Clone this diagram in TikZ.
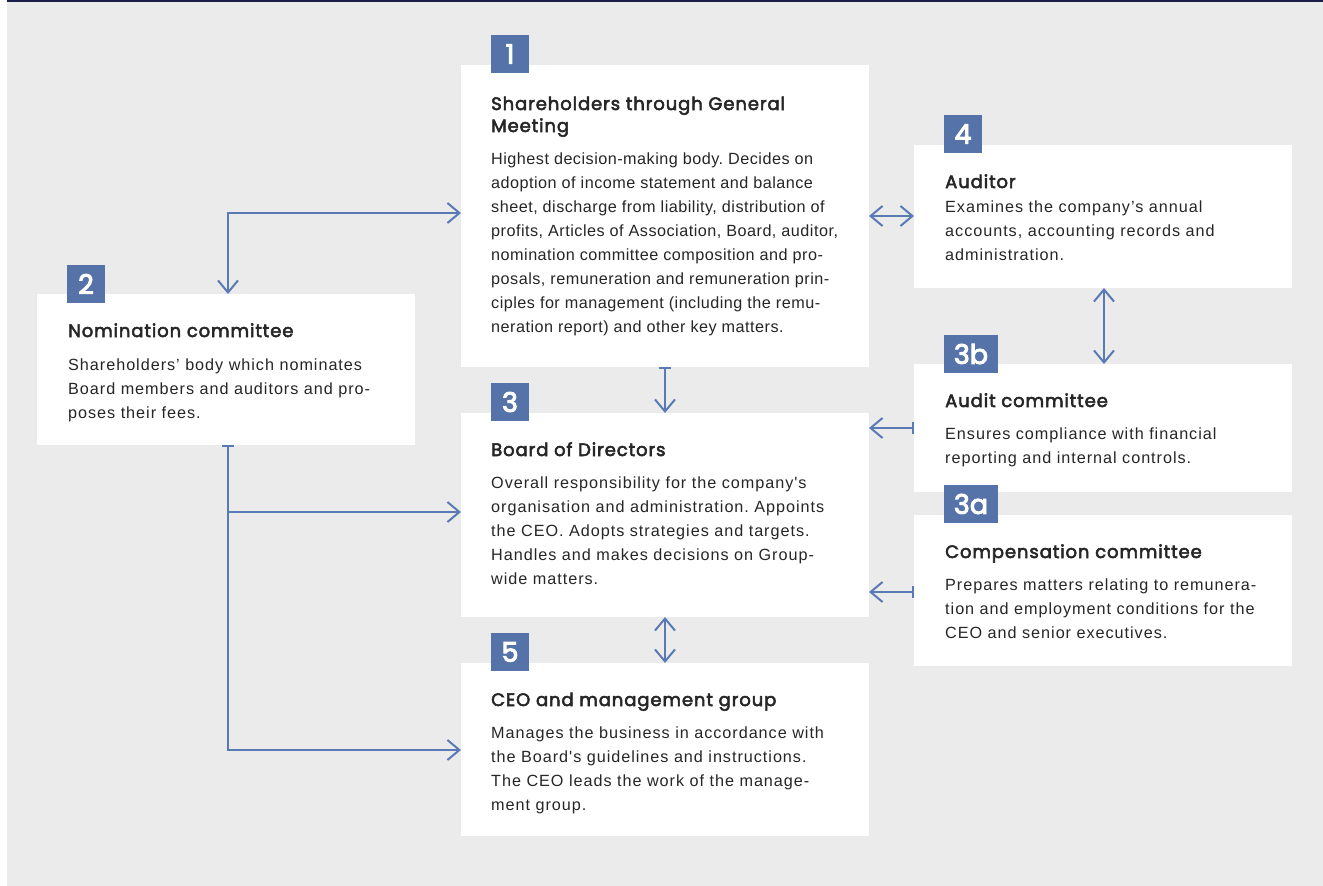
\documentclass[tikz,border=0pt]{standalone}
\usepackage{fontspec}
\usetikzlibrary{arrows.meta}
\setmainfont{Liberation Sans}
\newfontfamily\bodyf{Liberation Sans}[LetterSpace=6.0]
\newfontfamily\bodyn{Liberation Sans}[LetterSpace=3.0]
\newfontfamily\titlef{Poppins}[FakeBold=3.0, LetterSpace=5.0]
\newfontfamily\badgef{Poppins}[FakeBold=3.5]
\definecolor{bgc}{HTML}{EBEBEB}
\definecolor{navy}{HTML}{1C1F4A}
\definecolor{badgec}{HTML}{5573A8}
\definecolor{arrowc}{HTML}{5A7AB5}
\definecolor{textc}{HTML}{262626}
\begin{document}
\begin{tikzpicture}[x=1pt,y=-1pt,
  box/.style={fill=white, draw=none, anchor=north west, inner sep=0pt, outer sep=0pt},
  badge/.style={fill=badgec, text=white, inner sep=0pt, outer sep=0pt, anchor=north west,
    minimum height=38pt, font=\badgef\fontsize{27}{27}\selectfont},
  ttl/.style={anchor=base west, inner sep=0pt, text=textc,
    font=\titlef\fontsize{18}{22}\selectfont\frenchspacing},
  body/.style={anchor=base west, inner sep=0pt, text=textc,
    font=\bodyf\fontsize{16.2}{24}\selectfont\frenchspacing},
  bodyn/.style={anchor=base west, inner sep=0pt, text=textc,
    font=\bodyn\fontsize{16.2}{24}\selectfont\frenchspacing},
  conn/.style={draw=arrowc, line width=2pt},
  tp/.tip={Straight Barb[length=12pt, width=20pt]},
  br/.tip={Bar[width=12pt]}
]
\useasboundingbox (0,0) rectangle (1323,886);
\fill[bgc] (7,2) rectangle (1323,886);
\fill[navy] (7,0) rectangle (1323,2);

% boxes
\node[box, minimum width=408pt, minimum height=302pt] (b1) at (461,65) {};
\node[box, minimum width=378pt, minimum height=151pt] (b2) at (37,294) {};
\node[box, minimum width=408pt, minimum height=204pt] (b3) at (461,413) {};
\node[box, minimum width=408pt, minimum height=173pt] (b5) at (461,663) {};
\node[box, minimum width=378pt, minimum height=143pt] (b4) at (914,145) {};
\node[box, minimum width=378pt, minimum height=128pt] (b3b) at (914,364) {};
\node[box, minimum width=378pt, minimum height=151pt] (b3a) at (914,515) {};

% badges
\node[badge, minimum width=38pt] (n1) at (491,35) {1};
\node[badge, minimum width=38pt] (n2) at (67,265) {2};
\node[badge, minimum width=38pt] (n3) at (491,383) {3};
\node[badge, minimum width=38pt] (n5) at (491,633) {5};
\node[badge, minimum width=38pt] (n4) at (944,115) {4};
\node[badge, minimum width=54pt] (n3b) at (944,335) {3b};
\node[badge, minimum width=54pt] (n3a) at (944,485) {3a};

% texts
\node[ttl] (t1) at (491,110) {\parbox[t]{370pt}{\raggedright Shareholders through General\\Meeting}};
\node[bodyn] (d1) at (491,164) {\parbox[t]{370pt}{\raggedright
Highest decision-making body. Decides on\\
adoption of income statement and balance\\
sheet, discharge from liability, distribution of\\
profits, Articles of Association, Board, auditor,\\
nomination committee composition and pro-\\
posals, remuneration and remuneration prin-\\
ciples for management (including the remu-\\
neration report) and other key matters.}};

\node[ttl] (t2) at (68,337) {Nomination committee};
\node[body] (d2) at (68,370) {\parbox[t]{340pt}{\raggedright
Shareholders’ body which nominates\\
Board members and auditors and pro-\\
poses their fees.}};

\node[ttl] (t3) at (491,456) {Board of Directors};
\node[body] (d3) at (491,488) {\parbox[t]{370pt}{\raggedright
Overall responsibility for the company's\\
organisation and administration. Appoints\\
the CEO. Adopts strategies and targets.\\
Handles and makes decisions on Group-\\
wide matters.}};

\node[ttl] (t5) at (491,706) {CEO and management group};
\node[body] (d5) at (491,738) {\parbox[t]{370pt}{\raggedright
Manages the business in accordance with\\
the Board's guidelines and instructions.\\
The CEO leads the work of the manage-\\
ment group.}};

\node[ttl] (t4) at (945,188) {Auditor};
\node[body] (d4) at (945,212) {\parbox[t]{340pt}{\raggedright
Examines the company’s annual\\
accounts, accounting records and\\
administration.}};

\node[ttl] (t3b) at (945,407) {Audit committee};
\node[body] (d3b) at (945,439) {\parbox[t]{340pt}{\raggedright
Ensures compliance with financial\\
reporting and internal controls.}};

\node[ttl] (t3a) at (945,558) {Compensation committee};
\node[body] (d3a) at (945,590) {\parbox[t]{340pt}{\raggedright
Prepares matters relating to remunera-\\
tion and employment conditions for the\\
CEO and senior executives.}};

% connectors
\draw[conn, tp-tp] (b2.north -| 228,0) |- (b1.west |- 0,213);
\coordinate (j) at (228,512);
\draw[conn, br-tp] (b2.south -| 228,0) |- (b5.west |- 0,750);
\draw[conn, -tp] (j) -- (b3.west |- j);
\draw[conn, br-tp] (b1.south -| 665,0) -- (b3.north -| 665,0);
\draw[conn, tp-tp] (b3.south -| 665,0) -- (b5.north -| 665,0);
\draw[conn, tp-tp] (b1.east |- 0,216) -- (b4.west |- 0,216);
\draw[conn, tp-tp] (b4.south -| 1104,0) -- (b3b.north -| 1104,0);
\draw[conn, br-tp] (b3b.west |- 0,428) -- (b3.east |- 0,428);
\draw[conn, br-tp] (b3a.west |- 0,592) -- (b3.east |- 0,592);
\end{tikzpicture}
\end{document}
